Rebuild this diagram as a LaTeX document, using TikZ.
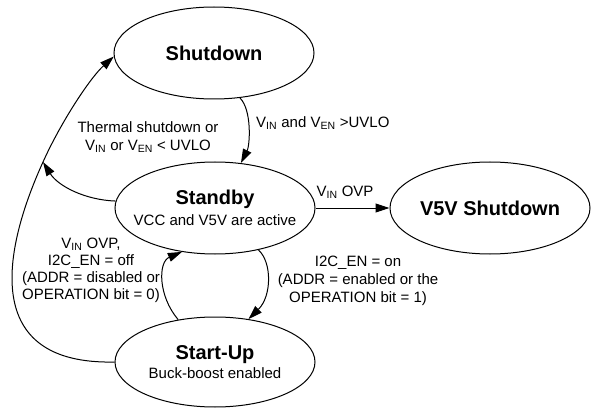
\documentclass[tikz,border=0pt]{standalone}
\usepackage{fontspec}
\setmainfont{Liberation Sans}
\usetikzlibrary{shapes.geometric,arrows.meta}

\newcommand{\titlefont}{\fontsize{20}{23}\selectfont\bfseries}
\newcommand{\condfont}{\fontsize{15}{18}\selectfont}
\newcommand{\Vin}{V\textsubscript{IN}}
\newcommand{\Ven}{V\textsubscript{EN}}

\tikzset{
  state/.style={ellipse, draw, line width=1pt, inner ysep=0pt, inner xsep=-16pt,
    minimum width=200pt, minimum height=92pt, align=center,
    font=\fontsize{15}{21}\selectfont},
  trans/.style={line width=1pt, -{Triangle[length=14pt, width=9pt]}},
  cond/.style={font=\condfont, align=center, inner sep=0pt}
}

\begin{document}
\begin{tikzpicture}[x=1pt, y=1pt]
  \useasboundingbox (0,0) rectangle (592,-409);
  % States
  \node[state] (shutdown) at (214,-53) {\titlefont Shutdown};
  \node[state] (standby) at (215,-208) {{\titlefont Standby}\\VCC and V5V are active};
  \node[state] (v5v) at (490,-208) {\titlefont V5V Shutdown};
  \node[state, minimum height=90pt, font=\fontsize{15}{19}\selectfont] (startup) at (215,-362)
    {{\titlefont Start-Up}\\Buck-boost enabled};

  % Merge point of the thermal branch
  \coordinate (merge) at (43,-162);

  % Shutdown -> Standby
  \draw[trans] (shutdown.-60) .. controls (252,-110) and (250,-145) .. (standby.60);
  \node[cond, anchor=west] (uvloup) at (256,-123) {\Vin{} and \Ven{} >UVLO};

  % Standby -> Shutdown (joins the Start-Up branch)
  \draw[trans] (standby.176) .. controls (85,-200) and (58,-186) .. (merge);
  \node[cond] (thermal) at (148,-137) {Thermal shutdown or\\\Vin{} or \Ven{} < UVLO};

  % Start-Up -> Shutdown
  \draw[trans] (startup.west) .. controls (-20,-365) and (3,-250) .. (merge)
    .. controls (61,-122) and (90,-78) .. (shutdown.182);

  % Standby -> V5V Shutdown
  \draw[trans] (standby.east) -- (v5v.west);
  \node[cond] (ovp) at (345,-192) {\Vin{} OVP};

  % Standby -> Start-Up
  \draw[trans] (standby.-44) .. controls (272,-262) and (272,-296) .. (startup.52);
  \node[cond] (i2con) at (358,-281) {I2C\_EN = on\\(ADDR = enabled or the\\OPERATION bit = 1)};

  % Start-Up -> Standby
  \draw[trans] (startup.131) .. controls (158,-296) and (158,-262) .. (standby.-127);
  \node[cond, font=\fontsize{15}{17}\selectfont] (i2coff) at (91,-270)
    {\Vin{} OVP,\\I2C\_EN = off\\(ADDR = disabled or\\OPERATION bit = 0)};
\end{tikzpicture}
\end{document}
